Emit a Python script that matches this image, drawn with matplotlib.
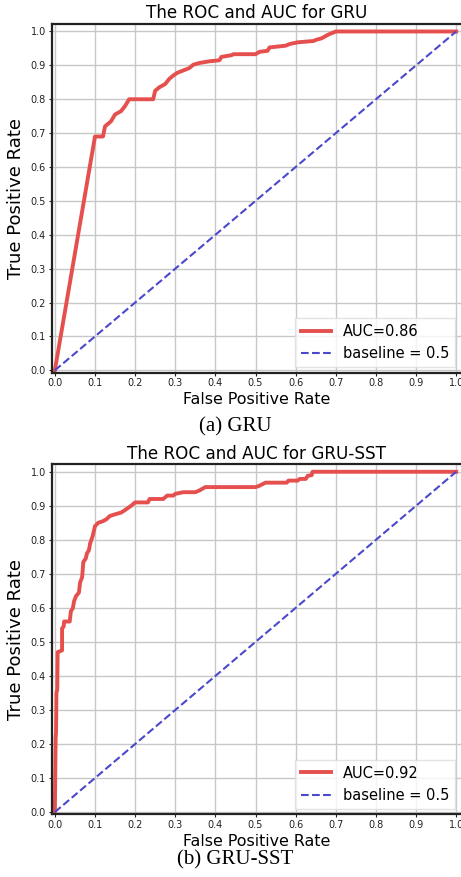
import matplotlib
matplotlib.use('Agg')
import matplotlib.pyplot as plt
import numpy as np

# ROC points (GRU)
fpr_gru = [0.0, 0.1, 0.12, 0.125, 0.13, 0.14, 0.15, 0.165, 0.175, 0.185, 0.245, 0.25, 0.26,
           0.275, 0.285, 0.295, 0.305, 0.32, 0.335, 0.345, 0.36, 0.385, 0.41, 0.415, 0.44,
           0.445, 0.5, 0.51, 0.53, 0.535, 0.575, 0.585, 0.605, 0.645, 0.65, 0.665, 0.68, 0.7, 1.0]
tpr_gru = [0.0, 0.69, 0.69, 0.72, 0.725, 0.735, 0.755, 0.765, 0.78, 0.8, 0.8, 0.825, 0.835,
           0.845, 0.86, 0.87, 0.878, 0.885, 0.892, 0.902, 0.907, 0.912, 0.915, 0.925, 0.93,
           0.933, 0.933, 0.94, 0.943, 0.953, 0.958, 0.963, 0.968, 0.972, 0.975, 0.98, 0.99, 1.0, 1.0]

# ROC points (GRU-SST)
fpr_sst = [0.0, 0.002, 0.003, 0.004, 0.006, 0.007, 0.018, 0.018, 0.022, 0.023, 0.037, 0.04,
           0.045, 0.048, 0.053, 0.06, 0.063, 0.068, 0.071, 0.077, 0.08, 0.085, 0.088, 0.094,
           0.1, 0.108, 0.12, 0.128, 0.137, 0.15, 0.165, 0.178, 0.19, 0.2, 0.232, 0.236, 0.27,
           0.28, 0.295, 0.3, 0.32, 0.35, 0.36, 0.375, 0.5, 0.508, 0.525, 0.578, 0.582, 0.605,
           0.61, 0.625, 0.63, 0.64, 0.642, 1.0]
tpr_sst = [0.0, 0.22, 0.235, 0.35, 0.36, 0.47, 0.475, 0.54, 0.545, 0.56, 0.56, 0.59,
           0.6, 0.62, 0.635, 0.645, 0.675, 0.69, 0.735, 0.745, 0.76, 0.77, 0.79, 0.81,
           0.84, 0.85, 0.855, 0.86, 0.87, 0.875, 0.88, 0.89, 0.9, 0.91, 0.91, 0.92, 0.92,
           0.93, 0.93, 0.935, 0.94, 0.94, 0.945, 0.955, 0.955, 0.958, 0.968, 0.968, 0.974, 0.974,
           0.979, 0.979, 0.988, 0.99, 1.0, 1.0]

baseline = [0.0, 1.0]
ticks = np.round(np.arange(0, 1.01, 0.1), 1)
tick_labels = ['%.1f' % t for t in ticks]

panels = [
    ('GRU', fpr_gru, tpr_gru, 'AUC=0.86', '(a) GRU'),
    ('GRU-SST', fpr_sst, tpr_sst, 'AUC=0.92', '(b) GRU-SST'),
]

fig = plt.figure(figsize=(4.61, 8.77), dpi=100)
axes_rects = [[0.112, 0.575, 0.888, 0.3976], [0.112, 0.0713, 0.888, 0.3993]]
caption_y = [0.513, 0.0194]

for rect, (name, fpr, tpr, auc_lbl, cap), cy in zip(axes_rects, panels, caption_y):
    ax = fig.add_axes(rect)
    ax.grid(True, color='#c8c8c8', linewidth=1.0)
    ax.set_axisbelow(True)
    ax.plot(fpr, tpr, color='#e5504f', linewidth=2.8, label=auc_lbl)
    ax.plot(baseline, baseline, color='#4a48cc', linestyle='--', linewidth=1.5,
            label='baseline = 0.5')
    ax.set_xlim(-0.008, 1.012)
    ax.set_ylim(-0.007, 1.022)
    ax.set_xticks(ticks)
    ax.set_xticklabels(tick_labels)
    ax.set_yticks(ticks)
    ax.set_yticklabels(tick_labels)
    ax.tick_params(labelsize=7, length=2, pad=2, colors='#222222')
    for side in ['left', 'bottom', 'top']:
        ax.spines[side].set_linewidth(1.6)
        ax.spines[side].set_color('#222222')
    ax.spines['right'].set_visible(False)
    ax.set_title('The ROC and AUC for ' + name, fontsize=12.1, pad=4)
    ax.set_xlabel('False Positive Rate', fontsize=11.4, labelpad=3)
    ax.set_ylabel('True Positive Rate', fontsize=13, labelpad=4)
    ax.legend(loc='lower right', fontsize=10.5, handlelength=2.1,
              borderaxespad=0.4, framealpha=0.8, fancybox=False, edgecolor='#dddddd')
    fig.text(0.51, cy, cap, ha='center', va='center', fontsize=15,
             family='Liberation Serif')

fig.savefig('out.png', dpi=100)
